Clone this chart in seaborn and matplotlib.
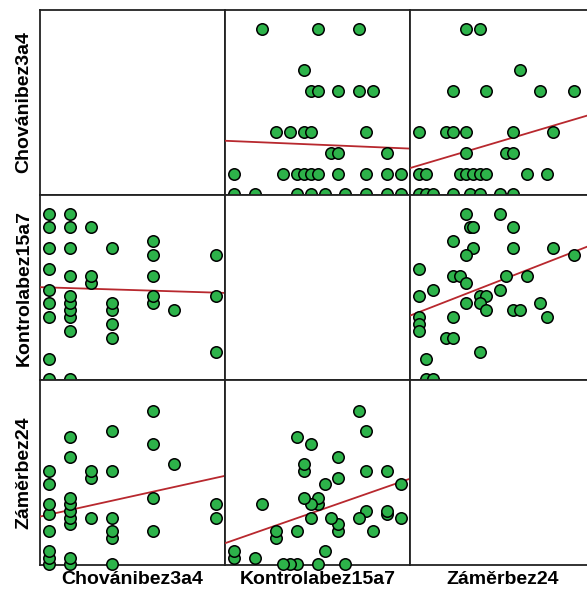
import numpy as np
import pandas as pd
import matplotlib
matplotlib.use("Agg")
import matplotlib.pyplot as plt
import seaborn as sns

# variable names
names = ["Chovánibez3a4", "Kontrolabez15a7", "Záměrbez24"]

# Chování vs Kontrola points
ck_c = [8, 8, 8, 6, 5, 5, 5, 5, 5, 3, 3, 3, 3, 3, 2, 2, 2,
        1, 1, 1, 1, 1, 1, 1, 1, 1, 1, 0, 0, 0, 0, 0, 0, 0, 0, 0]
ck_k = [4, 12, 18, 10, 11, 12, 15, 18, 20, 6, 8, 10, 11, 19, 14, 15, 22,
        0, 7, 9, 10, 11, 12, 15, 19, 22, 24, 0, 3, 9, 11, 13, 16, 19, 22, 24]

# Chování vs Záměr points
cz_c = [8, 8, 6, 5, 5, 5, 5, 3, 3, 3, 3, 3, 3, 2, 2, 2,
        1, 1, 1, 1, 1, 1, 1, 1, 1, 0, 0, 0, 0, 0, 0, 0, 0]
cz_z = [7, 9, 15, 5, 10, 18, 23, 0, 4, 5, 7, 14, 20, 7, 13, 14,
        0, 1, 6, 7, 8, 9, 10, 16, 19, 0, 1, 2, 5, 7.5, 9, 12, 14]

# Kontrola vs Záměr points
kz_k = [24, 24, 22, 22, 22, 20, 19, 19, 19, 18, 18, 16, 15, 15, 15, 15, 14, 13, 13, 12,
        12, 12, 11, 11, 11, 10, 10, 10, 9, 9, 9, 8, 7, 6, 6, 4, 3, 0, 0]
kz_z = [7, 12, 7.5, 8, 14, 5, 8, 14, 20, 7, 23, 0, 5, 6, 13, 16, 7, 2, 12, 0,
        9, 10, 7, 9, 18, 10, 14, 15, 0, 5, 19, 0, 0, 4, 5, 9, 1, 1, 2]

pairs = {
    (0, 1): pd.DataFrame({"a": ck_c, "b": ck_k}),
    (0, 2): pd.DataFrame({"a": cz_c, "b": cz_z}),
    (1, 2): pd.DataFrame({"a": kz_k, "b": kz_z}),
}

# axis limits per variable (as x, as y)
xlims = [(-0.44, 8.44), (-1.33, 25.3), (-1.39, 26.2)]
ylims = [(-0.03, 8.92), (-0.1, 26.7), (-0.1, 27.6)]

sns.set_style("white")
W, H = 587, 595
fig = plt.figure(figsize=(W / 100, H / 100), dpi=100)

left0, top0, size = 40, 10, 185
green = "#2db34a"
red = "#b8282e"

for i in range(3):
    for j in range(3):
        x0 = left0 + j * size
        y0 = top0 + i * size
        ax = fig.add_axes([x0 / W, 1 - (y0 + size) / H, size / W, size / H])
        ax.set_xlim(*xlims[j])
        ax.set_ylim(*ylims[i])
        ax.set_xticks([])
        ax.set_yticks([])
        for sp in ax.spines.values():
            sp.set_color("#222222")
            sp.set_linewidth(1.3)
            sp.set_zorder(1)
        if i == j:
            continue
        d = pairs[(min(i, j), max(i, j))]
        # column j is x, row i is y
        if i < j:
            xcol, ycol = "b", "a"
        else:
            xcol, ycol = "a", "b"
        sns.regplot(data=d, x=xcol, y=ycol, ax=ax, scatter=False, ci=None,
                    truncate=False, line_kws={"color": red, "lw": 1.3, "zorder": 2})
        sns.scatterplot(data=d, x=xcol, y=ycol, ax=ax, s=68, color=green,
                        edgecolor="black", linewidth=1.1, clip_on=False, zorder=3)
        ax.set_xlim(*xlims[j])
        ax.set_ylim(*ylims[i])
        ax.set_xlabel("")
        ax.set_ylabel("")

font = dict(family=["Liberation Sans", "DejaVu Sans"], fontsize=14,
            fontweight="bold", color="black")
for k, name in enumerate(names):
    cx = left0 + k * size + size / 2
    fig.text(cx / W, 1 - 580 / H, name, ha="center", va="center", **font)
    cy = top0 + k * size + size / 2
    fig.text(24 / W, 1 - cy / H, name, ha="center", va="center", rotation=90, **font)

fig.savefig("out.png", dpi=100)
